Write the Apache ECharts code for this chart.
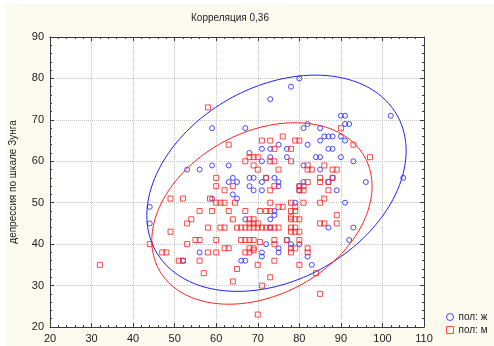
<!DOCTYPE html>
<html>
<head>
<meta charset="utf-8">
<script src="https://cdn.jsdelivr.net/npm/echarts@6/dist/echarts.min.js"></script>
<style>
  html, body { margin: 0; padding: 0; background: #fff; }
  #chart { position: absolute; left: 6px; top: 4px; width: 488px; height: 342px; background: #fcfaef; }
</style>
</head>
<body>
<div id="chart"></div>
<script>
const title = 'Корреляция 0,36';
const yName = 'депрессия по шкале Зунга';
const seriesNames = ['пол: ж', 'пол: м'];
const xRange = [20, 110];
const yRange = [20, 90];
const tickStep = 10;

// пол: ж  [x, y]
const female = [
  [80,80],[78,78],[73,75],[59,68],[67,68],[90,71],[91,71],[102,71],[82,69],[81,68],
  [91,69],[92,69],[85,68],[86,66],[87,66],[88,66],[90,66],[85,65],[82,64],[91,65],
  [87,63],[88,63],[84,61],[85,61],[90,61],[93,60],[81,59],[85,58],[88,56],[87,55],
  [96,55],[105,56],[81,55],[80,54],[89,53],[53,58],[56,58],[59,59],[63,59],[44,49],
  [44,45],[68,62],[71,63],[73,63],[75,64],[73,61],[71,60],[77,63],[77,61],[63,55],
  [64,56],[65,55],[68,56],[69,56],[68,54],[69,53],[71,55],[72,56],[74,56],[75,55],
  [52,36],[56,38],[59,51],[64,52],[65,51],[67,46],[72,40],[71,53],[66,36],[67,36],
  [71,38],[71,37],[75,38],[82,37],[83,35],[91,50],[93,44],[92,41],[75,54],[80,53],
  [79,50],[74,48],[74,47],[73,46],[87,44],[73,44],[77,41],[78,40],[80,40],[75,39]
];

// пол: м  [x, y]
const male = [
  [58,73],[63,64],[71,65],[73,65],[74,63],[76,66],[79,65],[80,65],[78,63],[90,68],
  [93,64],[97,61],[78,60],[82,59],[83,58],[82,58],[86,59],[88,58],[89,58],[85,56],
  [85,55],[87,55],[88,56],[82,55],[81,54],[80,54],[68,61],[69,61],[70,61],[67,60],
  [69,59],[70,58],[73,60],[74,60],[75,58],[60,56],[60,54],[62,53],[64,54],[72,56],
  [49,51],[52,51],[56,48],[54,46],[53,45],[49,43],[44,40],[47,38],[48,38],[53,40],
  [55,41],[51,36],[52,36],[32,35],[56,36],[58.5,51],[60,50],[61,50],[62,50],[59,48],
  [63,48],[64.5,50],[67,48],[64,46],[68,46],[69,46],[68,45],[69,45],[70.5,48],[72,48],
  [58,44],[61,44],[62,44],[65,44],[66,44],[67,44],[68,44],[69,44],[70,44],[71,44],
  [72,44],[70,45],[56,41],[60,41],[66,41],[67,41],[68,41],[69,41],[62,39],[63,39],
  [68,39],[69,39],[70.5,40.5],[73,53],[74,54],[81,53],[80,53],[87,53],[73,50],[76,49],
  [75,49],[78,50],[79,49],[78,48],[79,48],[78,46.5],[81,50],[85,50],[86,51],[73,48],
  [78,46],[79,46],[80,46],[89,47],[89,45],[85,45],[86,45],[73,44],[74,44],[75,44],
  [78,44],[79,44],[78,43],[79,43],[80,43],[74,41],[77,41],[80,41],[74,40],[78,39],
  [79,39],[82,39],[58,38],[60,38],[67,38],[68,38],[69,38.5],[70,35],[57,33],[65,34],
  [64,31],[71,30],[70,23],[74,36],[80,35],[73,32],[84,33],[85,28],[78,38],[82,38]
];

// 95% ellipse: centre x, centre y, half-width, half-height, r
const femaleEllipse = [74.5, 54.7, 31.2, 26.1, 0.3];
const maleEllipse = [71.0, 47.4, 26.5, 21.9, 0.3];

const blue = '#1e1eff';
const red = '#ff1e1e';
const font = 'Liberation Sans, Arial, sans-serif';

function ellipse(p) {
  const [cx, cy, hx, hy, r] = p;
  const pts = [];
  for (let i = 0; i <= 180; i++) {
    const t = i / 180 * 2 * Math.PI;
    pts.push([cx + hx * Math.cos(t), cy + hy * (r * Math.cos(t) + Math.sqrt(1 - r * r) * Math.sin(t))]);
  }
  return pts;
}

const frameAxis = (pos, range, labels) => ({
  type: 'value',
  position: pos,
  min: range[0],
  max: range[1],
  interval: tickStep,
  axisLine: { show: true, lineStyle: { color: '#3a3a3a', width: 1 } },
  axisTick: { show: true, inside: true, length: 4, lineStyle: { color: '#3a3a3a' } },
  minorTick: { show: true, splitNumber: 5, length: 2, lineStyle: { color: '#3a3a3a' } },
  axisLabel: labels ? { show: true, fontSize: 11, color: '#222', fontFamily: font, margin: 6 } : { show: false },
  splitLine: labels ? { show: true, lineStyle: { color: '#c4c4c4', type: 'dotted', width: 1 } } : { show: false }
});

const chart = echarts.init(document.getElementById('chart'));
chart.setOption({
  animation: false,
  title: {
    text: title,
    left: 185,
    top: 9,
    padding: 0,
    textStyle: { fontSize: 10, fontWeight: 'normal', color: '#222', fontFamily: font }
  },
  grid: {
    left: 44, top: 33, width: 374, height: 290,
    outerBoundsMode: 'none', containLabel: false,
    show: true, backgroundColor: '#fff', borderWidth: 0
  },
  legend: {
    data: seriesNames,
    orient: 'vertical',
    left: 440,
    top: 308,
    padding: 0,
    itemWidth: 7,
    itemHeight: 7,
    itemGap: 3,
    itemStyle: { borderWidth: 1 },
    textStyle: { fontSize: 10, color: '#222', fontFamily: font }
  },
  xAxis: [frameAxis('bottom', xRange, true), frameAxis('top', xRange, false)],
  yAxis: [
    Object.assign(frameAxis('left', yRange, true), {
      name: yName,
      nameLocation: 'middle',
      nameGap: 32,
      nameTextStyle: { fontSize: 10, color: '#222', fontFamily: font }
    }),
    frameAxis('right', yRange, false)
  ],
  series: [
    {
      name: seriesNames[0], type: 'scatter', data: female, symbol: 'circle', symbolSize: 5,
      itemStyle: { color: 'rgba(0,0,0,0)', borderColor: blue, borderWidth: 1 }
    },
    {
      name: seriesNames[1], type: 'scatter', data: male, symbol: 'rect', symbolSize: 5,
      itemStyle: { color: 'rgba(0,0,0,0)', borderColor: red, borderWidth: 1 }
    },
    {
      name: 'ellipse-f', type: 'line', data: ellipse(femaleEllipse), showSymbol: false, silent: true,
      lineStyle: { color: blue, width: 1 }
    },
    {
      name: 'ellipse-m', type: 'line', data: ellipse(maleEllipse), showSymbol: false, silent: true,
      lineStyle: { color: red, width: 1 }
    }
  ]
});
</script>
</body>
</html>
